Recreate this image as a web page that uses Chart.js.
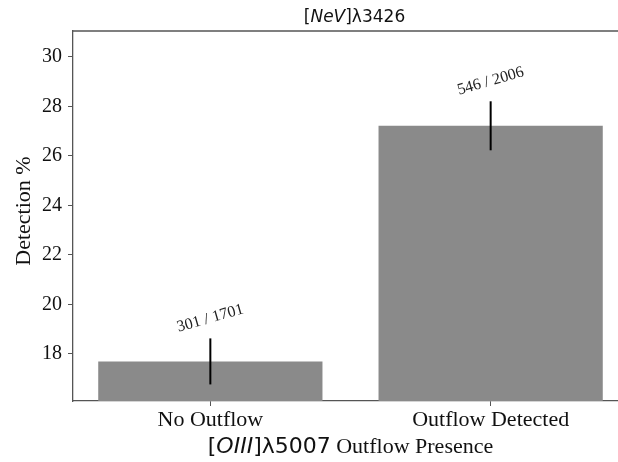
<!DOCTYPE html>
<html>
<head>
<meta charset="utf-8">
<script src="https://cdn.jsdelivr.net/npm/chart.js@4"></script>
<style>
  html, body { margin: 0; padding: 0; background: #fff; overflow: hidden; }
  #wrap { position: absolute; left: 0; top: 0; width: 640px; height: 462px; }
</style>
</head>
<body>
<div id="wrap"><canvas id="c" width="640" height="462"></canvas></div>
<script>
// Outflow groups and their [NeV] detection statistics
const categories = ['No Outflow', 'Outflow Detected'];
const detected = [301, 546];
const totals = [1701, 2006];
const detectionPct = [17.70, 27.22];
const errorPct = [0.93, 0.99];
const yTicks = [18, 20, 22, 24, 26, 28, 30];

const SERIF = '"Liberation Serif", "Times New Roman", serif';
const SANS = '"DejaVu Sans", sans-serif';
const SPINE = '#555555';

const decorations = {
  id: 'decorations',
  afterDatasetsDraw(chart) {
    const ctx = chart.ctx;
    const xs = chart.scales.x, ys = chart.scales.y;
    ctx.save();
    // symmetric error bars, no caps
    ctx.strokeStyle = '#000';
    ctx.lineWidth = 2;
    detectionPct.forEach((v, i) => {
      const px = xs.getPixelForValue(i);
      ctx.beginPath();
      ctx.moveTo(px, ys.getPixelForValue(v - errorPct[i]));
      ctx.lineTo(px, ys.getPixelForValue(v + errorPct[i]));
      ctx.stroke();
    });
    // rotated count labels above each error bar
    ctx.fillStyle = '#222';
    ctx.font = '16px ' + SERIF;
    ctx.textAlign = 'center';
    ctx.textBaseline = 'middle';
    detectionPct.forEach((v, i) => {
      const px = xs.getPixelForValue(i);
      const py = ys.getPixelForValue(v + errorPct[i]) - 20;
      ctx.save();
      ctx.translate(px, py);
      ctx.rotate(-16 * Math.PI / 180);
      ctx.fillText(detected[i] + ' / ' + totals[i], 0, 0);
      ctx.restore();
    });
    ctx.restore();
  },
  afterDraw(chart) {
    const ctx = chart.ctx;
    const a = chart.chartArea;
    ctx.save();
    // top frame line
    ctx.strokeStyle = SPINE;
    ctx.lineWidth = 1.3;
    ctx.beginPath();
    ctx.moveTo(a.left, a.top);
    ctx.lineTo(a.right, a.top);
    ctx.stroke();

    const cx = (a.left + a.right) / 2;
    // title
    const tparts = [
      { t: '[', f: '17px ' + SANS },
      { t: 'NeV', f: 'italic 17px ' + SANS },
      { t: ']\u03bb3426', f: '17px ' + SANS }
    ];
    drawParts(ctx, tparts, cx + 4, 22);
    // x-axis title
    const xparts = [
      { t: '[', f: '22px ' + SANS },
      { t: 'OIII', f: 'italic 22px ' + SANS },
      { t: ']\u03bb5007', f: '22px ' + SANS },
      { t: ' Outflow Presence', f: '22px ' + SERIF }
    ];
    drawParts(ctx, xparts, cx, 453);
    // y-axis title
    ctx.save();
    ctx.translate(24, (a.top + a.bottom) / 2 - 5);
    ctx.rotate(-Math.PI / 2);
    ctx.font = '22px ' + SERIF;
    ctx.fillStyle = '#111';
    ctx.textAlign = 'center';
    ctx.textBaseline = 'middle';
    ctx.fillText('Detection %', 0, 0);
    ctx.restore();
    ctx.restore();
  }
};

function drawParts(ctx, parts, cx, baseline) {
  let total = 0;
  parts.forEach(p => { ctx.font = p.f; p.w = ctx.measureText(p.t).width; total += p.w; });
  let x = cx - total / 2;
  ctx.fillStyle = '#111';
  ctx.textAlign = 'left';
  ctx.textBaseline = 'alphabetic';
  parts.forEach(p => { ctx.font = p.f; ctx.fillText(p.t, x, baseline); x += p.w; });
}

new Chart(document.getElementById('c'), {
  type: 'bar',
  data: {
    datasets: [{
      data: detectionPct.map((v, i) => ({ x: i, y: v })),
      backgroundColor: '#8a8a8a',
      borderWidth: 0,
      barPercentage: 0.8,
      categoryPercentage: 1.0
    }]
  },
  options: {
    responsive: false,
    animation: false,
    devicePixelRatio: 1,
    layout: { padding: { left: 0, right: 12, top: 31, bottom: 0 } },
    plugins: { legend: { display: false }, tooltip: { enabled: false }, title: { display: false } },
    scales: {
      x: {
        type: 'linear',
        offset: false,
        min: -0.49,
        max: 1.49,
        afterBuildTicks: s => { s.ticks = categories.map((_, i) => ({ value: i })); },
        afterFit: s => { s.height = 61; },
        ticks: {
          callback: v => categories[v],
          font: { family: SERIF, size: 22 },
          color: '#111',
          padding: 1,
          maxRotation: 0,
          autoSkip: false
        },
        grid: { offset: false, drawOnChartArea: false, drawTicks: true, tickLength: 5, color: SPINE, tickWidth: 1 },
        border: { display: true, color: SPINE, width: 1.3 }
      },
      y: {
        min: 16.1,
        max: 31.05,
        afterBuildTicks: s => { s.ticks = yTicks.map(v => ({ value: v })); },
        afterFit: s => { s.width = 73; },
        ticks: {
          font: { family: SERIF, size: 20 },
          color: '#111',
          padding: 6
        },
        grid: { drawOnChartArea: false, drawTicks: true, tickLength: 5, color: SPINE, tickWidth: 1 },
        border: { display: true, color: SPINE, width: 1.3 }
      }
    }
  },
  plugins: [decorations]
});
</script>
</body>
</html>
